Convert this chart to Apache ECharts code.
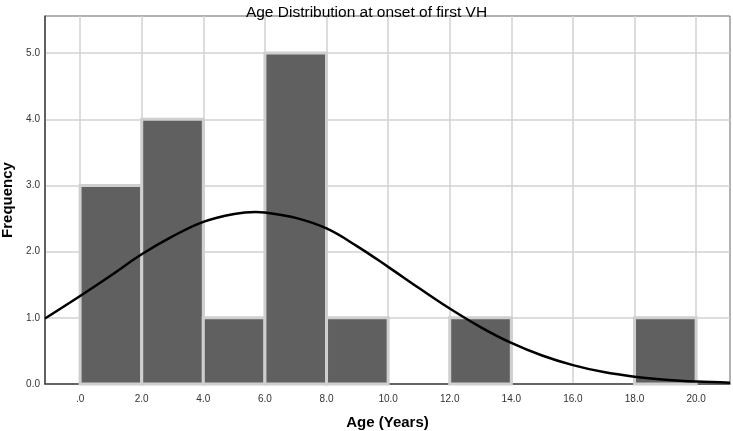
<!DOCTYPE html>
<html>
<head>
<meta charset="utf-8">
<script src="https://cdn.jsdelivr.net/npm/echarts@6/dist/echarts.min.js"></script>
<style>html,body{margin:0;padding:0;background:#fff;}#c{width:733px;height:431px;}</style>
</head>
<body>
<div id="c"></div>
<script>
// Histogram bins (age, years)
const binStarts = [0, 2, 4, 6, 8, 10, 12, 14, 16, 18];
const binEnds   = [2, 4, 6, 8, 10, 12, 14, 16, 18, 20];
const frequency = [3, 4, 1, 5, 1, 0, 1, 0, 0, 1];
// Normal curve
const curveX = [-1.14, 0, 1, 2, 3, 4, 5, 5.7, 6, 7, 8, 9, 10, 11, 12, 13, 14, 15, 16, 17, 18, 19, 20, 21.1];
const curveY = [0.99, 1.33, 1.64, 1.96, 2.23, 2.45, 2.57, 2.60, 2.59, 2.51, 2.35, 2.08, 1.77, 1.45, 1.14, 0.86, 0.62, 0.43, 0.285, 0.18, 0.11, 0.065, 0.037, 0.02];
// Axis ticks
const xTicks = [0, 2, 4, 6, 8, 10, 12, 14, 16, 18, 20];
const yTicks = [0, 1, 2, 3, 4, 5];
const xRange = [-1.14, 21.1];
const yRange = [0, 5.56];

const barData = binStarts.map((s, i) => [s, binEnds[i], frequency[i]]).filter(d => d[2] > 0);
const curveData = curveX.map((x, i) => [x, curveY[i]]);

const chart = echarts.init(document.getElementById('c'));
chart.setOption({
  animation: false,
  backgroundColor: '#ffffff',
  title: {
    text: 'Age Distribution at onset of first VH',
    left: 'center', top: 0,
    textStyle: { fontFamily: 'Liberation Sans, Arial', fontSize: 15.5, fontWeight: 'normal', color: '#000' }
  },
  grid: { left: 45, right: 3, top: 16, bottom: 47, show: true, borderColor: '#666', borderWidth: 1, outerBoundsMode: 'none', containLabel: false },
  xAxis: {
    type: 'value', min: xRange[0], max: xRange[1],
    name: 'Age (Years)', nameLocation: 'middle', nameGap: 31,
    nameTextStyle: { fontFamily: 'Liberation Sans, Arial', fontSize: 15, fontWeight: 'bold', color: '#000' },
    axisLine: { show: true, onZero: false, lineStyle: { color: '#444', width: 1.5 } },
    axisTick: { show: false, customValues: xTicks },
    axisLabel: {
      customValues: xTicks, margin: 10,
      fontFamily: 'Liberation Sans, Arial', fontSize: 10, color: '#333',
      formatter: v => v === 0 ? '.0' : v.toFixed(1)
    },
    splitLine: { show: true, lineStyle: { color: '#d2d2d2', width: 1.5 } }
  },
  yAxis: {
    type: 'value', min: yRange[0], max: yRange[1],
    name: 'Frequency', nameLocation: 'middle', nameGap: 26,
    nameTextStyle: { fontFamily: 'Liberation Sans, Arial', fontSize: 15, fontWeight: 'bold', color: '#000' },
    axisLine: { show: true, onZero: false, lineStyle: { color: '#444', width: 1.5 } },
    axisTick: { show: false, customValues: yTicks },
    axisLabel: {
      customValues: yTicks, margin: 5,
      fontFamily: 'Liberation Sans, Arial', fontSize: 10, color: '#333',
      formatter: v => v.toFixed(1)
    },
    splitLine: { show: true, lineStyle: { color: '#d2d2d2', width: 1.5 } }
  },
  series: [
    {
      type: 'custom',
      data: barData,
      encode: { x: [0, 1], y: 2 },
      renderItem: function (params, api) {
        const p0 = api.coord([api.value(0), api.value(2)]);
        const p1 = api.coord([api.value(1), 0]);
        return {
          type: 'rect',
          shape: { x: p0[0], y: p0[1], width: p1[0] - p0[0], height: p1[1] - p0[1] },
          style: { fill: '#606060', stroke: '#cfcfcf', lineWidth: 3 }
        };
      },
      z: 2
    },
    {
      type: 'line',
      data: curveData,
      smooth: 0.4,
      showSymbol: false,
      lineStyle: { color: '#000', width: 2.5 },
      z: 3
    }
  ]
});
</script>
</body>
</html>
